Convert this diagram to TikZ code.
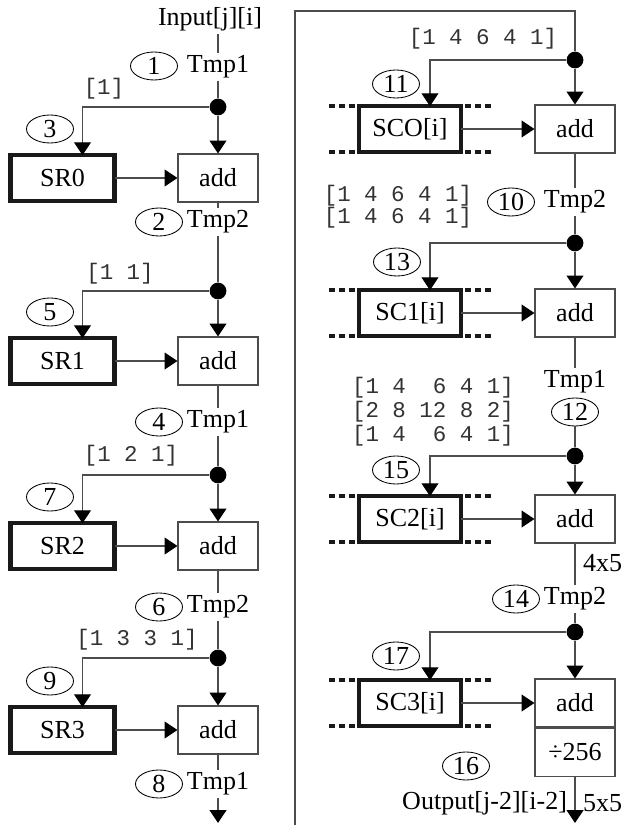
\documentclass[tikz,border=0pt]{standalone}
\usepackage{fontspec}
\setmainfont{Liberation Serif}
\setmonofont{Liberation Mono}
\usetikzlibrary{arrows.meta,positioning,shapes.geometric}

\begin{document}
\begin{tikzpicture}[
  x=1cm,
  y=1cm,
  font=\fontsize{18.5}{22}\selectfont,
  wire/.style={draw=black!70, line width=0.8pt},
  feed/.style={
    wire,
    -{Triangle[width=0.42cm, length=0.32cm, color=black]}
  },
  shiftreg/.style={
    rectangle,
    draw=black!90,
    line width=3.2pt,
    minimum width=2.61cm,
    minimum height=1.14cm,
    outer sep=0pt,
    inner sep=0pt
  },
  shiftcol/.style={shiftreg, minimum width=2.54cm},
  rail/.style={
    draw=black!90,
    line width=3.2pt,
    dash pattern=on 0.15cm off 0.1cm
  },
  adder/.style={
    rectangle,
    draw=black!70,
    line width=0.8pt,
    minimum width=2cm,
    minimum height=1.2cm,
    inner sep=0pt
  },
  tag/.style={
    ellipse,
    draw=black,
    line width=0.6pt,
    minimum width=1.175cm,
    minimum height=0.7cm,
    inner sep=0pt
  },
  junction/.style={
    circle,
    fill=black,
    minimum size=0.42cm,
    inner sep=0pt
  },
  label/.style={inner sep=2pt},
  note/.style={inner sep=2pt},
  coef/.style={
    font=\ttfamily\fontsize{16}{12}\selectfont,
    text=black!80,
    align=left,
    inner sep=0pt
  }
]

\useasboundingbox (0,0) rectangle (15.65,20.625);

% left column: row filters SR0..SR3
\node[note] (in) at (5.25,20.15) {Input[j][i]};
\node[label] (t1) at (5.45,18.95) {Tmp1};
\node[tag] (n1) at (3.85,18.975) {1};

\node[junction] (d0) at (5.45,17.95) {};
\node[coef] (c0) at (2.6,18.4) {[1]};
\node[tag] (n3) at (1.25,17.4) {3};
\node[shiftreg] (sr0) at (1.5625,16.175) {SR0};
\node[adder] (a0) at (5.45,16.175) {add};
\node[label] (t2) at (5.45,15.075) {Tmp2};
\node[tag] (n2) at (3.975,15.075) {2};

\node[junction] (d1) at (5.45,13.35) {};
\node[coef] (c1) at (3.0,13.775) {[1 1]};
\node[tag] (n5) at (1.25,12.825) {5};
\node[shiftreg] (sr1) at (1.5625,11.6) {SR1};
\node[adder] (a1) at (5.45,11.6) {add};
\node[label] (t4) at (5.45,10.075) {Tmp1};
\node[tag] (n4) at (3.975,10.075) {4};

\node[junction] (d2) at (5.45,8.75) {};
\node[coef] (c2) at (3.275,9.225) {[1 2 1]};
\node[tag] (n7) at (1.25,8.2) {7};
\node[shiftreg] (sr2) at (1.5625,6.975) {SR2};
\node[adder] (a2) at (5.45,6.975) {add};
\node[label] (t6) at (5.45,5.45) {Tmp2};
\node[tag] (n6) at (3.975,5.45) {6};

\node[junction] (d3) at (5.45,4.175) {};
\node[coef] (c3) at (3.425,4.625) {[1 3 3 1]};
\node[tag] (n9) at (1.25,3.6) {9};
\node[shiftreg] (sr3) at (1.5625,2.375) {SR3};
\node[adder] (a3) at (5.45,2.375) {add};
\node[label] (t8) at (5.45,1.025) {Tmp1};
\node[tag] (n8) at (3.975,1.025) {8};
\coordinate (end0) at (5.45,0.05);

\draw[wire] (t1 |- in.south) -- (t1) -- (d0);
\draw[feed] (d0) -- (a0);
\draw[feed] (d0) -| ([xshift=0.5cm]sr0.north);
\draw[feed] (sr0) -- (a0);
\draw[wire] (a0) -- (t2) -- (d1);
\draw[feed] (d1) -- (a1);
\draw[feed] (d1) -| ([xshift=0.5cm]sr1.north);
\draw[feed] (sr1) -- (a1);
\draw[wire] (a1) -- (t4) -- (d2);
\draw[feed] (d2) -- (a2);
\draw[feed] (d2) -| ([xshift=0.5cm]sr2.north);
\draw[feed] (sr2) -- (a2);
\draw[wire] (a2) -- (t6) -- (d3);
\draw[feed] (d3) -- (a3);
\draw[feed] (d3) -| ([xshift=0.5cm]sr3.north);
\draw[feed] (sr3) -- (a3);
\draw[wire] (a3) -- (t8);
\draw[feed] (t8) -- (end0);

% wrap-around into the right column
\coordinate (wrap) at (7.375,0);
\coordinate (top) at (14.375,20.35);

% right column: column filters SC0..SC3
\node[coef] (cA) at (12.075,19.65) {[1 4 6 4 1]};
\node[junction] (dA) at (14.375,19.125) {};
\node[tag] (n11) at (9.9,18.525) {11};
\node[shiftcol] (sc0) at (10.25,17.4) {SCO[i]};
\node[adder] (aA) at (14.375,17.4) {add};
\node[tag] (n10) at (12.775,15.575) {10};
\node[label] (t10) at (14.375,15.575) {Tmp2};

\node[coef] (cB) at (9.95,15.45) {[1 4 6 4 1]\\{}[1 4 6 4 1]};
\node[junction] (dB) at (14.375,14.55) {};
\node[tag] (n13) at (9.925,14.075) {13};
\node[shiftcol] (sc1) at (10.25,12.8) {SC1[i]};
\node[adder] (aB) at (14.375,12.8) {add};
\node[label] (t12) at (14.375,11.075) {Tmp1};
\node[tag] (n12) at (14.375,10.325) {12};

\node[coef, font=\ttfamily\fontsize{16}{17}\selectfont] (cC) at (10.825,10.325)
  {[1 4~~6 4 1]\\{}[2 8 12 8 2]\\{}[1 4~~6 4 1]};
\node[junction] (dC) at (14.375,9.225) {};
\node[tag] (n15) at (9.9,8.875) {15};
\node[shiftcol] (sc2) at (10.25,7.65) {SC2[i]};
\node[adder] (aC) at (14.375,7.65) {add};
\node[note, anchor=west] (s45) at (14.5,6.55) {4x5};
\node[tag] (n14) at (12.9,5.65) {14};
\node[label] (t14) at (14.375,5.65) {Tmp2};

\node[junction] (dD) at (14.375,4.825) {};
\node[tag] (n17) at (9.9,4.225) {17};
\node[shiftcol] (sc3) at (10.25,3.05) {SC3[i]};
\node[adder] (aD) at (14.375,3.05) {add};
\node[adder, below=0pt of aD] (divD) {÷256};
\node[tag] (n16) at (11.65,1.475) {16};
\node[note, anchor=east] (out) at (14.25,0.55) {Output[j-2][i-2]};
\node[note, anchor=west] (s55) at (14.5,0.55) {5x5};
\coordinate (outD) at (14.375,0.05);

\draw[wire] (wrap) |- (top) -- (dA);
\draw[feed] (dA) -- (aA);
\draw[feed] (dA) -| ([xshift=0.5cm]sc0.north);
\draw[feed] (sc0) -- (aA);
\draw[wire] (aA) -- (t10) -- (dB);
\draw[feed] (dB) -- (aB);
\draw[feed] (dB) -| ([xshift=0.5cm]sc1.north);
\draw[feed] (sc1) -- (aB);
\draw[wire] (aB) -- (t12);
\draw[wire] (n12) -- (dC);
\draw[feed] (dC) -- (aC);
\draw[feed] (dC) -| ([xshift=0.5cm]sc2.north);
\draw[feed] (sc2) -- (aC);
\draw[wire] (aC) -- (t14) -- (dD);
\draw[feed] (dD) -- (aD);
\draw[feed] (dD) -| ([xshift=0.5cm]sc3.north);
\draw[feed] (sc3) -- (aD);
\draw[feed] (divD) -- (outD);

% dotted rails along the column buffers
\foreach \b in {sc0,sc1,sc2,sc3} {
  \draw[rail] ([xshift=-0.75cm]\b.north west) -- (\b.north west);
  \draw[rail] ([xshift=0.1cm]\b.north east) -- ([xshift=0.75cm]\b.north east);
  \draw[rail] ([xshift=-0.75cm]\b.south west) -- (\b.south west);
  \draw[rail] ([xshift=0.1cm]\b.south east) -- ([xshift=0.75cm]\b.south east);
}

\end{tikzpicture}
\end{document}
